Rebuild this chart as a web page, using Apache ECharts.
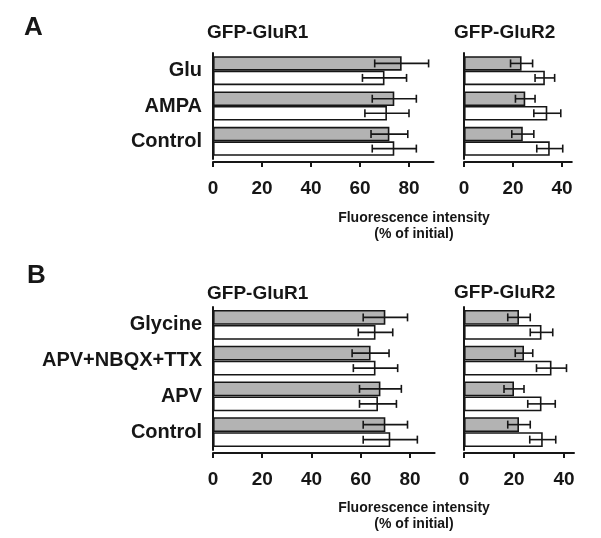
<!DOCTYPE html>
<html>
<head>
<meta charset="utf-8">
<script src="https://cdn.jsdelivr.net/npm/echarts@6/dist/echarts.min.js"></script>
<style>
html,body{margin:0;padding:0;background:#fff;}
#c{width:601px;height:538px;}
</style>
</head>
<body>
<div id="c"></div>
<script>
// ---- data ----
var catsA = ['Glu', 'AMPA', 'Control'];
var a1Gray = [77, 74, 72];
var a1GrayErr = [11, 9, 7.5];
var a1White = [70, 71, 74];
var a1WhiteErr = [9, 9, 9];
var a2Gray = [23.5, 25, 24];
var a2GrayErr = [4.5, 4, 4.5];
var a2White = [33, 34, 35];
var a2WhiteErr = [4, 5.5, 5.3];

var catsB = ['Glycine', 'APV+NBQX+TTX', 'APV', 'Control'];
var b1Gray = [70, 64, 68, 70];
var b1GrayErr = [9, 7.5, 8.5, 9];
var b1White = [66, 66, 67, 72];
var b1WhiteErr = [7, 9, 7.5, 11];
var b2Gray = [22, 24, 20, 22];
var b2GrayErr = [4.5, 3.5, 4, 4.5];
var b2White = [31, 35, 31, 31.5];
var b2WhiteErr = [4.5, 6, 5.5, 5.2];

var ticksR1 = [0, 20, 40, 60, 80];
var ticksR2 = [0, 20, 40];

var FONT = '"Liberation Sans", Arial, sans-serif';
var INK = '#161616';
var GRAY = '#b3b3b3';

var chart = echarts.init(document.getElementById('c'), null, {renderer: 'canvas'});

var grids = [
  {left: 213, top: 53, width: 220.5, height: 106},
  {left: 464, top: 53, width: 107.8, height: 106},
  {left: 213, top: 307, width: 221.6, height: 143},
  {left: 464, top: 307, width: 110, height: 143}
];

function xAx(gi, max, ticks, margin) {
  return {
    type: 'value', gridIndex: gi, min: 0, max: max, offset: 3,
    axisLine: {show: true, lineStyle: {color: INK, width: 2}},
    axisTick: {show: true, length: 5, lineStyle: {color: INK, width: 2}, customValues: ticks},
    axisLabel: {customValues: ticks, color: INK, fontFamily: FONT, fontWeight: 'bold', fontSize: 19, margin: margin},
    splitLine: {show: false}
  };
}
function yAx(gi, cats, showLabels) {
  return {
    type: 'category', gridIndex: gi, data: cats, inverse: true,
    axisLine: {show: true, lineStyle: {color: INK, width: 2}},
    axisTick: {show: false},
    axisLabel: {show: showLabels, color: INK, fontFamily: FONT, fontWeight: 'bold', fontSize: 20, margin: 11}
  };
}

function barSeries(gi, vals, fill, bw) {
  return {
    type: 'bar', xAxisIndex: gi, yAxisIndex: gi, data: vals,
    barWidth: bw, barGap: '0%', silent: true,
    itemStyle: {color: fill, borderColor: INK, borderWidth: 1.6},
    z: 2
  };
}
function errSeries(gi, vals, errs, sign, bw) {
  var d = vals.map(function (v, i) { return [v, i, errs[i]]; });
  return {
    type: 'custom', xAxisIndex: gi, yAxisIndex: gi, data: d, silent: true, z: 5,
    encode: {x: 0, y: 1},
    renderItem: function (params, api) {
      var v = api.value(0), ci = api.value(1), e = api.value(2);
      var c = api.coord([v, ci]);
      var y = c[1] + sign * bw / 2;
      var lo = api.coord([v - e, ci])[0];
      var hi = api.coord([v + e, ci])[0];
      var h = 4;
      var st = {stroke: INK, lineWidth: 1.6};
      return {type: 'group', children: [
        {type: 'line', shape: {x1: lo, y1: y, x2: hi, y2: y}, style: st},
        {type: 'line', shape: {x1: lo, y1: y - h, x2: lo, y2: y + h}, style: st},
        {type: 'line', shape: {x1: hi, y1: y - h, x2: hi, y2: y + h}, style: st}
      ]};
    }
  };
}

var bwA = 14.5, bwB = 15;

function ttl(text, left, top, size, extra) {
  var t = {text: text, left: left, top: top, padding: 0,
    textStyle: {fontFamily: FONT, fontWeight: 'bold', fontSize: size, color: INK}};
  if (extra) { for (var k in extra) { if (k === 'textStyle') { for (var s in extra.textStyle) t.textStyle[s] = extra.textStyle[s]; } else t[k] = extra[k]; } }
  return t;
}

var option = {
  animation: false,
  backgroundColor: '#ffffff',
  title: [
    ttl('A', 24, 15, 26),
    ttl('B', 27, 263, 26),
    ttl('GFP-GluR1', 207, 23, 19),
    ttl('GFP-GluR2', 454, 23, 19),
    ttl('GFP-GluR1', 207, 284, 19),
    ttl('GFP-GluR2', 454, 283, 19),
    ttl('Fluorescence intensity\n(% of initial)', 414, 210, 14, {textAlign: 'center', textStyle: {lineHeight: 16}}),
    ttl('Fluorescence intensity\n(% of initial)', 414, 500, 14, {textAlign: 'center', textStyle: {lineHeight: 16}})
  ],
  grid: grids,
  xAxis: [xAx(0, 90, ticksR1, 17), xAx(1, 44, ticksR2, 17), xAx(2, 90, ticksR1, 17), xAx(3, 44, ticksR2, 17)],
  yAxis: [yAx(0, catsA, true), yAx(1, catsA, false), yAx(2, catsB, true), yAx(3, catsB, false)],
  series: [
    barSeries(0, a1Gray, GRAY, bwA), barSeries(0, a1White, '#ffffff', bwA),
    barSeries(1, a2Gray, GRAY, bwA), barSeries(1, a2White, '#ffffff', bwA),
    barSeries(2, b1Gray, GRAY, bwB), barSeries(2, b1White, '#ffffff', bwB),
    barSeries(3, b2Gray, GRAY, bwB), barSeries(3, b2White, '#ffffff', bwB),
    errSeries(0, a1Gray, a1GrayErr, -1, bwA), errSeries(0, a1White, a1WhiteErr, 1, bwA),
    errSeries(1, a2Gray, a2GrayErr, -1, bwA), errSeries(1, a2White, a2WhiteErr, 1, bwA),
    errSeries(2, b1Gray, b1GrayErr, -1, bwB), errSeries(2, b1White, b1WhiteErr, 1, bwB),
    errSeries(3, b2Gray, b2GrayErr, -1, bwB), errSeries(3, b2White, b2WhiteErr, 1, bwB)
  ]
};
chart.setOption(option);
</script>
</body>
</html>
